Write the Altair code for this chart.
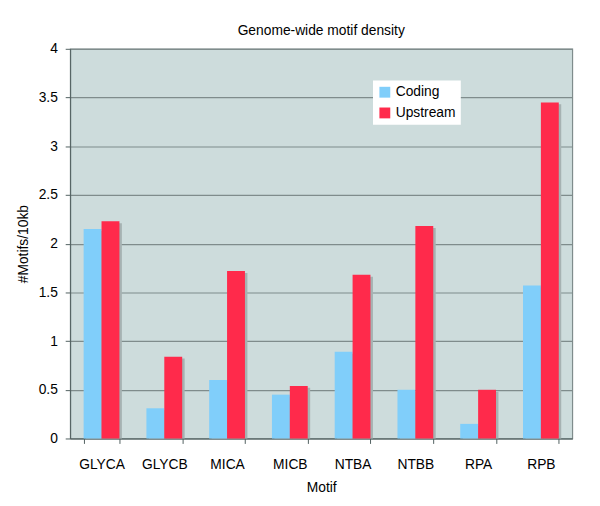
import altair as alt
import pandas as pd

motifs = ["GLYCA", "GLYCB", "MICA", "MICB", "NTBA", "NTBB", "RPA", "RPB"]
coding = [2.15, 0.31, 0.60, 0.45, 0.89, 0.50, 0.15, 1.57]
upstream = [2.23, 0.84, 1.72, 0.54, 1.68, 2.18, 0.50, 3.45]
series = ["Coding", "Upstream"]
colors = ["#80cefa", "#ff2a4b"]
y_ticks = [0, 0.5, 1, 1.5, 2, 2.5, 3, 3.5, 4]

rows = []
for m, c, u in zip(motifs, coding, upstream):
    rows.append({"Motif": m, "Series": series[0], "Value": c})
    rows.append({"Motif": m, "Series": series[1], "Value": u})
df = pd.DataFrame(rows)

FONT = "Liberation Sans"
FS = 14
W, H = 509, 395
PAD_IN, PAD_OUT = 0.43, 0.215
STEP = W / (len(motifs) - PAD_IN + 2 * PAD_OUT)
BW = STEP * (1 - PAD_IN)
SHIFT = 2.5

x_enc = alt.X("Motif:N", sort=motifs,
              scale=alt.Scale(paddingInner=PAD_IN, paddingOuter=PAD_OUT),
              axis=alt.Axis(title="Motif", labelAngle=0, tickBand="extent",
                            tickSize=5, tickColor="#506060", domainColor="#506060",
                            labelPadding=14, labelFontSize=FS, labelFont=FONT,
                            labelColor="#000", titleFont=FONT, titleFontSize=FS,
                            titleFontWeight="normal", titleColor="#000",
                            titleY=50, titleBaseline="middle", grid=False))
y_enc = alt.Y("Value:Q", stack=None,
              scale=alt.Scale(domain=[0, 4], nice=False),
              axis=alt.Axis(title="#Motifs/10kb", values=y_ticks, tickSize=5,
                            format="~g",
                            tickColor="#506060", domainColor="#506060",
                            labelPadding=8, labelFontSize=FS, labelFont=FONT,
                            labelColor="#000", titleFont=FONT, titleFontSize=FS,
                            titleFontWeight="normal", titleColor="#000",
                            titleX=-47, titleY=H / 2, titleBaseline="middle",
                            grid=True, gridColor="#7f8c8c", gridWidth=1.2))

shadow = alt.Chart(df).mark_bar(color="#a6b2b2", yOffset=2).encode(
    x=x_enc, y=y_enc,
    xOffset=alt.XOffset("Series:N", sort=series,
                        scale=alt.Scale(paddingInner=0, paddingOuter=0,
                                        range=[SHIFT, SHIFT + BW])))

bars = alt.Chart(df).mark_bar().encode(
    x=x_enc, y=y_enc,
    xOffset=alt.XOffset("Series:N", sort=series,
                        scale=alt.Scale(paddingInner=0, paddingOuter=0)),
    color=alt.Color("Series:N", sort=series,
                    scale=alt.Scale(domain=series, range=colors),
                    legend=alt.Legend(title=None, orient="none", legendX=307, legendY=32,
                                      fillColor="white", padding=5, symbolType="square",
                                      symbolSize=121, symbolStrokeWidth=0,
                                      labelFontSize=FS, labelFont=FONT, labelColor="#000",
                                      rowPadding=7, labelOffset=4)))

chart = alt.layer(shadow, bars).resolve_scale(xOffset="independent").properties(
    width=W, height=H,
    title=alt.TitleParams("Genome-wide motif density", font=FONT, fontSize=FS,
                          fontWeight="normal", color="#000", offset=4),
    autosize=alt.AutoSizeParams(type="none"),
    padding={"left": 63, "top": 38, "right": 20, "bottom": 60},
).configure(background="white").configure_view(fill="#cddcdc", stroke="#7f8c8c", strokeWidth=1.2)

chart.save("out.html", embed_options={"renderer": "svg", "actions": False})
